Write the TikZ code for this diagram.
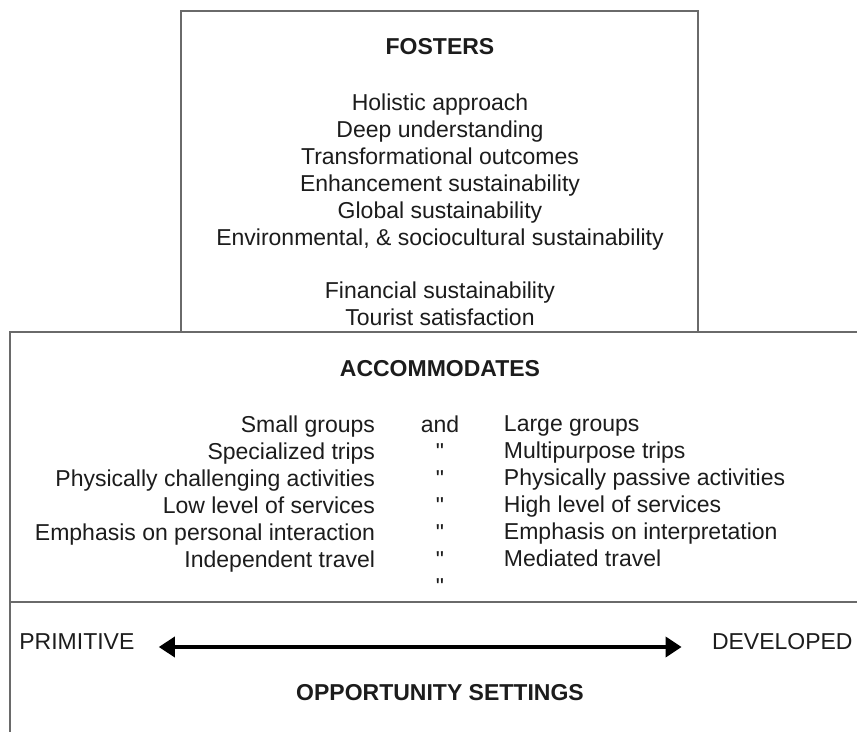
\documentclass[tikz,border=0pt]{standalone}
\usepackage{fontspec}
\setmainfont{Liberation Sans}
\usetikzlibrary{arrows.meta,positioning}
\definecolor{ink}{HTML}{1C1C1C}
\definecolor{rule}{HTML}{6A6A6A}

\begin{document}
\begin{tikzpicture}[x = 0.5pt, y = -0.5pt, > = {Triangle[length = 8pt, width = 10pt]}, font = \fontsize{11.5}{13.5}\selectfont, text = ink]
\tikzset{
  frame/.style = {draw = rule, line width = 1.1pt},
  textline/.style = {inner sep = 0pt},
  heading/.style = {textline, font = \fontsize{11.5}{13.5}\selectfont\bfseries},
  spanArrow/.style = {<->, draw = black, line width = 1.8pt},
}
\clip (0,0) rectangle (857,732);
\fill [white] (0,0) rectangle (857,732);
% boxes
\draw [frame] (181,11) rectangle (698,332);
\draw [frame] (10,332) rectangle (880,602);
\draw [frame] (10,602) rectangle (880,760);
% fosters
\node [heading, anchor = base] (fosters) at (440,55) {FOSTERS};
\node [textline, align = center, below = 19.25pt of fosters.base] (fostersList) {Holistic approach\\Deep understanding\\Transformational outcomes\\Enhancement sustainability\\Global sustainability\\Environmental, \& sociocultural sustainability\\[13pt]Financial sustainability\\Tourist satisfaction};
% accommodates
\node [heading, anchor = base] (accommodates) at (440,377) {ACCOMMODATES};
\node [textline, align = center, below = 19.25pt of accommodates.base] (conj) {and\\\textquotedbl\\\textquotedbl\\\textquotedbl\\\textquotedbl\\\textquotedbl\\\textquotedbl};
\node [textline, align = right, anchor = north east, at = {([xshift = -22.5pt]conj.north west)}] (primitiveSide) {Small groups\\Specialized trips\\Physically challenging activities\\Low level of services\\Emphasis on personal interaction\\Independent travel};
\node [textline, align = left, anchor = north west, at = {([xshift = 22pt]conj.north east)}] (developedSide) {Large groups\\Multipurpose trips\\Physically passive activities\\High level of services\\Emphasis on interpretation\\Mediated travel};
% opportunity settings
\node [textline, anchor = base west] (primitive) at (19,649) {PRIMITIVE};
\node [textline, anchor = base east] (developed) at (853,649) {DEVELOPED};
\node [heading, anchor = base] (settings) at (440,700) {OPPORTUNITY SETTINGS};
\draw [spanArrow] ([xshift = 12pt, yshift = 1pt]primitive.base east) -- ([xshift = -15pt, yshift = 1pt]developed.base west);
\end{tikzpicture}
\end{document}
